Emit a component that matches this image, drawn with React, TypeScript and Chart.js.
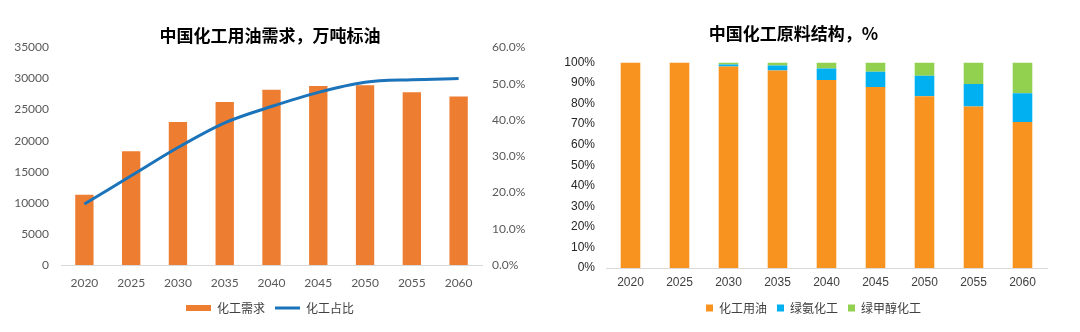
import React, { useEffect, useRef } from "react";
import { Chart, registerables } from "chart.js";

Chart.register(...registerables);

const years = ["2020", "2025", "2030", "2035", "2040", "2045", "2050", "2055", "2060"];
const demand = [11300, 18300, 23000, 26200, 28200, 28800, 28900, 27800, 27100];
const share = [16.8, 24.6, 32.4, 39.2, 43.7, 47.6, 50.4, 51.1, 51.4];

const oilShare = [100, 100, 98, 96, 91.5, 88, 83.5, 78.5, 71];
const ammoniaShare = [0, 0, 1, 2.5, 5.5, 7.5, 10, 11, 14];
const methanolShare = [0, 0, 1, 1.5, 3, 4.5, 6.5, 10.5, 15];

const leftTitle = "中国化工用油需求，万吨标油";
const rightTitle = "中国化工原料结构，%";

const CJK = "'Noto Sans CJK SC', sans-serif";

const legendShift = (dx: number) => ({
  id: "legendShift",
  afterLayout(chart: any) {
    if (chart.legend) {
      chart.legend.left += dx;
      chart.legend.right += dx;
    }
  },
});

function LeftChart() {
  const ref = useRef<HTMLCanvasElement>(null);
  useEffect(() => {
    const chart = new Chart(ref.current!, {
      type: "bar",
      data: {
        labels: years,
        datasets: [
          {
            type: "line",
            label: "化工占比",
            data: share,
            yAxisID: "y1",
            borderColor: "#1B73BA",
            backgroundColor: "#1B73BA",
            borderWidth: 3,
            pointRadius: 0,
            pointStyle: "line",
            tension: 0.4,
            cubicInterpolationMode: "monotone",
            order: 0,
          } as any,
          {
            type: "bar",
            label: "化工需求",
            data: demand,
            yAxisID: "y",
            backgroundColor: "#ED7D31",
            barPercentage: 0.8,
            categoryPercentage: 0.49,
            pointStyle: "rect",
            order: 1,
          } as any,
        ],
      },
      options: {
        animation: false,
        responsive: false,
        layout: { padding: { top: 25, right: 0, left: 0, bottom: 8 } },
        plugins: {
          title: {
            display: true,
            text: leftTitle,
            color: "#000",
            font: { family: CJK, size: 17, weight: "bold" },
            padding: { top: 0, bottom: 2 },
          },
          legend: {
            position: "bottom",
            reverse: true,
            labels: {
              usePointStyle: true,
              pointStyleWidth: 25,
              boxHeight: 6,
              boxWidth: 25,
              color: "#404040",
              font: { family: CJK, size: 12 },
              padding: 10,
            },
          },
          tooltip: { enabled: false },
        },
        scales: {
          x: {
            grid: { display: false, drawTicks: false },
            border: { display: true, color: "#D9D9D9" },
            ticks: { color: "#595959", font: { family: "Lato", size: 12 }, padding: 11 },
            afterFit: (s: any) => { s.height = 27; },
          },
          y: {
            position: "left",
            min: 0,
            max: 35000,
            grid: { display: false, drawTicks: false },
            border: { display: false },
            ticks: {
              stepSize: 5000,
              color: "#595959",
              font: { family: "Lato", size: 12 },
              padding: 12,
              callback: (v: any) => String(v),
            },
            afterFit: (s: any) => { s.width = 61; },
          },
          y1: {
            position: "right",
            min: 0,
            max: 60,
            grid: { display: false, drawTicks: false },
            border: { display: false },
            ticks: {
              stepSize: 10,
              color: "#595959",
              font: { family: "Lato", size: 12 },
              padding: 10,
              callback: (v: any) => Number(v).toFixed(1) + "%",
            },
            afterFit: (s: any) => { s.width = 58; },
          },
        },
      },
    });
    return () => chart.destroy();
  }, []);
  return <canvas ref={ref} width={540} height={332} />;
}

function RightChart() {
  const ref = useRef<HTMLCanvasElement>(null);
  useEffect(() => {
    const common = { barPercentage: 0.8, categoryPercentage: 0.5 };
    const chart = new Chart(ref.current!, {
      type: "bar",
      data: {
        labels: years,
        datasets: [
          { label: "化工用油", data: oilShare, backgroundColor: "#F7931E", ...common },
          { label: "绿氨化工", data: ammoniaShare, backgroundColor: "#00B0F0", ...common },
          { label: "绿甲醇化工", data: methanolShare, backgroundColor: "#92D050", ...common },
        ],
      },
      plugins: [legendShift(20)],
      options: {
        animation: false,
        responsive: false,
        layout: { padding: { top: 23, right: 33, left: 0, bottom: 8 } },
        plugins: {
          title: {
            display: true,
            text: rightTitle,
            color: "#000",
            font: { family: CJK, size: 17, weight: "bold" },
            padding: { top: 0, bottom: 19 },
          },
          legend: {
            position: "bottom",
            labels: {
              boxWidth: 7,
              boxHeight: 7,
              color: "#404040",
              font: { family: CJK, size: 12 },
              padding: 10,
            },
          },
          tooltip: { enabled: false },
        },
        scales: {
          x: {
            stacked: true,
            grid: { display: false, drawTicks: false },
            border: { display: true, color: "#D9D9D9" },
            ticks: { color: "#404040", font: { family: "'Liberation Sans'", size: 12 }, padding: 7 },
            afterFit: (s: any) => { s.height = 24; },
          },
          y: {
            stacked: true,
            min: 0,
            max: 100,
            grid: { display: false, drawTicks: false },
            border: { display: false },
            ticks: {
              stepSize: 10,
              color: "#262626",
              font: { family: "'Liberation Sans'", size: 12 },
              padding: 11,
              callback: (v: any) => v + "%",
            },
            afterFit: (s: any) => { s.width = 66; },
          },
        },
      },
    });
    return () => chart.destroy();
  }, []);
  return <canvas ref={ref} width={540} height={332} />;
}

export default function App() {
  return (
    <div
      style={{
        position: "fixed",
        left: 0,
        top: 0,
        width: 1080,
        height: 332,
        background: "#fff",
        display: "flex",
      }}
    >
      <div style={{ width: 540, height: 332 }}>
        <LeftChart />
      </div>
      <div style={{ width: 540, height: 332 }}>
        <RightChart />
      </div>
    </div>
  );
}
